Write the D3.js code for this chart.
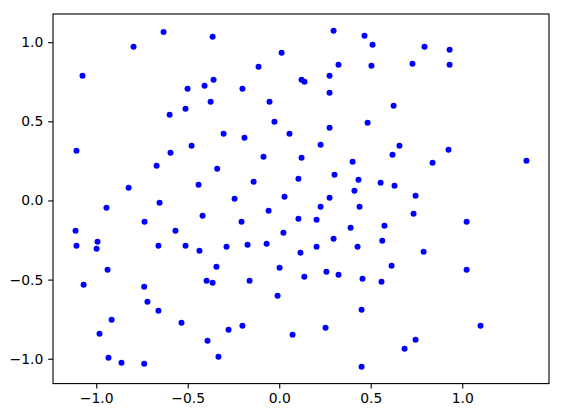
<!DOCTYPE html>
<html>
<head>
<meta charset="utf-8">
<script src="https://cdn.jsdelivr.net/npm/d3@7"></script>
<style>
  body { margin: 0; background: #fff; }
  text { font-family: "DejaVu Sans", sans-serif; }
</style>
</head>
<body>
<div class="chart"></div>
<script>
// point coordinates
var xs = [
  -0.632, -0.364, -0.796, -1.075, -0.501, -0.408, -0.359, -0.375, -0.512, -0.599,
  0.297, 0.466, 0.510, 0.013, 0.324, 0.504, -0.113, 0.122, 0.138, 0.275,
  -0.201, 0.275, -0.053, -0.026, 0.483, -0.304, -0.190, 0.056, 0.275, 0.226,
  0.794, 0.931, 0.728, 0.931, 0.625, 0.657,
  -0.479, -1.108, -0.594, -0.670, -0.339, -0.441, -0.823, -0.654, -0.944, -0.419,
  -0.736, -0.567, -1.113, -0.993, -1.108, -0.998, -0.660, -0.512, -0.436, -0.343,
  -0.086, 0.122, 0.401, -0.140, 0.105, 0.302, 0.433, 0.554, 0.411, -0.244,
  0.029, 0.275, 0.226, 0.439, -0.058, -0.206, 0.105, 0.204, 0.390, 0.575,
  0.023, -0.288, -0.173, -0.069, 0.116, 0.204, 0.297, 0.428, 0.563, 0.002,
  0.925, 0.619, 0.838, 1.351, 0.630, 0.745, 0.734, 1.024, 0.789, 0.614,
  -0.938, -1.069, -0.738, -0.720, -0.660, -0.916, -0.982, -0.534, -0.392, -0.933,
  -0.862, -0.738, -0.397, -0.364, -0.332,
  -0.162, -0.009, 0.137, 0.258, 0.324, 0.455, 0.559, 0.450, -0.277, -0.201,
  0.073, 0.253, 0.450,
  1.024, 1.100, 0.745, 0.685
];
var ys = [
  1.065, 1.034, 0.971, 0.788, 0.706, 0.725, 0.762, 0.623, 0.579, 0.541,
  1.072, 1.040, 0.984, 0.933, 0.857, 0.851, 0.845, 0.762, 0.750, 0.788,
  0.706, 0.680, 0.623, 0.497, 0.491, 0.421, 0.396, 0.421, 0.459, 0.352,
  0.971, 0.952, 0.864, 0.857, 0.598, 0.346,
  0.346, 0.314, 0.301, 0.219, 0.200, 0.099, 0.080, -0.015, -0.046, -0.097,
  -0.135, -0.191, -0.191, -0.261, -0.286, -0.305, -0.286, -0.286, -0.318, -0.419,
  0.276, 0.270, 0.244, 0.118, 0.137, 0.162, 0.131, 0.112, 0.061, 0.011,
  0.023, 0.017, -0.040, -0.040, -0.065, -0.135, -0.116, -0.122, -0.172, -0.160,
  -0.204, -0.292, -0.280, -0.273, -0.330, -0.292, -0.242, -0.292, -0.255, -0.425,
  0.320, 0.289, 0.238, 0.251, 0.093, 0.030, -0.084, -0.135, -0.324, -0.413,
  -0.438, -0.533, -0.545, -0.640, -0.697, -0.754, -0.842, -0.773, -0.886, -0.994,
  -1.025, -1.032, -0.507, -0.520, -0.987,
  -0.507, -0.602, -0.482, -0.450, -0.469, -0.495, -0.514, -0.690, -0.817, -0.792,
  -0.848, -0.804, -1.051,
  -0.438, -0.792, -0.880, -0.937
];
var xTicks = [-1.0, -0.5, 0.0, 0.5, 1.0];
var yTicks = [-1.0, -0.5, 0.0, 0.5, 1.0];

var width = 562,
    height = 416,
    margin = {left: 53, top: 14, right: 13, bottom: 32.4};
var w = width - margin.left - margin.right,
    h = height - margin.top - margin.bottom;

var points = xs.map((x, i) => ({x: x, y: ys[i]}));

// matplotlib style 5% margins around the data
function padded(vals) {
  var ext = d3.extent(vals), s = ext[1] - ext[0];
  return [ext[0] - 0.05 * s, ext[1] + 0.05 * s];
}

var x = d3.scaleLinear().domain(padded(xs)).range([0, w]);
var y = d3.scaleLinear().domain(padded(ys)).range([h, 0]);

var fmt = d => d3.format(".1f")(d).replace("-", "\u2212");

var svg = d3.select('.chart')
    .append('svg')
      .attr('width', width)
      .attr('height', height)
    .append('g')
      .attr('transform', `translate(${margin.left},${margin.top})`);

svg.selectAll('.dot')
    .data(points)
    .enter()
    .append('circle')
    .classed('dot', true)
    .attr('cx', d => x(d.x))
    .attr('cy', d => y(d.y))
    .attr('r', 3)
    .attr('fill', '#0000ff');

var xAxis = svg.append('g')
    .attr('transform', `translate(0,${h})`)
    .call(d3.axisBottom(x).tickValues(xTicks).tickFormat(fmt)
      .tickSize(4.86).tickPadding(4.86));

var yAxis = svg.append('g')
    .call(d3.axisLeft(y).tickValues(yTicks).tickFormat(fmt)
      .tickSize(4.86).tickPadding(4.86));

[xAxis, yAxis].forEach(a => {
  a.select('.domain').remove();
  a.selectAll('line').attr('stroke', '#000').attr('stroke-width', 1.1);
  a.selectAll('text')
    .attr('fill', '#000')
    .style('font-size', '13.9px')
    .style('font-family', '"DejaVu Sans", sans-serif');
});

svg.append('rect')
    .attr('width', w)
    .attr('height', h)
    .attr('fill', 'none')
    .attr('stroke', '#000')
    .attr('stroke-width', 1.1);
</script>
</body>
</html>
